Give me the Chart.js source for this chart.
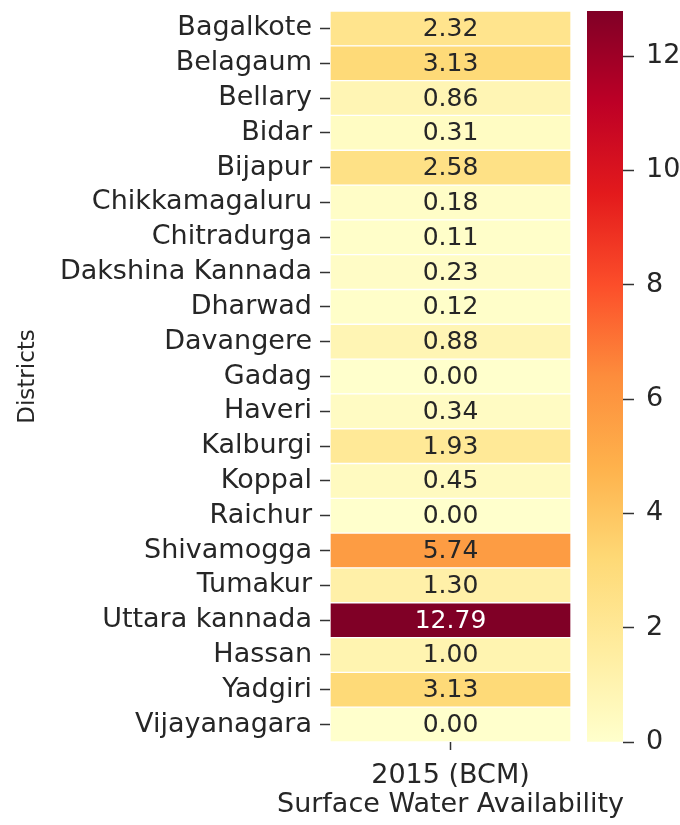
<!DOCTYPE html>
<html>
<head>
<meta charset="utf-8">
<script src="https://cdn.jsdelivr.net/npm/chart.js@4.4.1/dist/chart.umd.min.js"></script>
<style>
  html, body { margin: 0; padding: 0; background: #fff; }
  #wrap { position: relative; width: 680px; height: 825px; }
  #wrap canvas { position: absolute; left: 0; top: 0; }
</style>
</head>
<body>
<div id="wrap">
  <canvas id="heat" width="680" height="825"></canvas>
  <canvas id="cbar" width="680" height="825"></canvas>
</div>
<script>
// surface water availability per district, 2015, in BCM
const districts = [
    "Bagalkote", "Belagaum", "Bellary", "Bidar", "Bijapur", "Chikkamagaluru",
    "Chitradurga", "Dakshina Kannada", "Dharwad", "Davangere", "Gadag", "Haveri",
    "Kalburgi", "Koppal", "Raichur", "Shivamogga", "Tumakur", "Uttara kannada",
    "Hassan", "Yadgiri", "Vijayanagara"
];
const water2015 = [
    2.32, 3.13, 0.86, 0.31, 2.58, 0.18,
    0.11, 0.23, 0.12, 0.88, 0.00, 0.34,
    1.93, 0.45, 0.00, 5.74, 1.30, 12.79,
    1.00, 3.13, 0.00
];
const columnLabel = "2015 (BCM)";
const xTitle = "Surface Water Availability";
const yTitle = "Districts";
const cbarTicks = [0, 2, 4, 6, 8, 10, 12];

// YlOrRd
const ylorrd = ["#ffffcc", "#ffeda0", "#fed976", "#feb24c", "#fd8d3c", "#fc4e2a", "#e31a1c", "#bd0026", "#800026"];

const vmin = Math.min(...water2015);
const vmax = Math.max(...water2015);

const FONT = "'DejaVu Sans', sans-serif";

function _hexToRgb(h) {
    return [parseInt(h.substr(1, 2), 16), parseInt(h.substr(3, 2), 16), parseInt(h.substr(5, 2), 16)];
}

function _cmapRgb(v) {
    let t = (v - vmin) / (vmax - vmin);
    t = Math.max(0, Math.min(1, t)) * (ylorrd.length - 1);
    const i = Math.min(Math.floor(t), ylorrd.length - 2);
    const f = t - i;
    const a = _hexToRgb(ylorrd[i]);
    const b = _hexToRgb(ylorrd[i + 1]);
    return a.map((x, k) => Math.round(x + (b[k] - x) * f));
}

function _cmap(v) {
    return "rgb(" + _cmapRgb(v).join(",") + ")";
}

function _luminance(v) {
    const m = _cmapRgb(v).map(x => {
        x = x / 255;
        return x <= 0.03928 ? x / 12.92 : Math.pow((x + 0.055) / 1.055, 2.4);
    });
    return 0.2126 * m[0] + 0.7152 * m[1] + 0.0722 * m[2];
}

function _noEdgePadding(scale) {
    scale.paddingTop = 0;
    scale.paddingBottom = 0;
    scale.paddingLeft = 0;
    scale.paddingRight = 0;
}

Chart.defaults.font.family = FONT;
Chart.defaults.font.size = 27;
Chart.defaults.color = "#262626";

const cellText = {
    id: "cellText",
    afterDatasetsDraw(chart) {
        const ctx = chart.ctx;
        const meta = chart.getDatasetMeta(0);
        ctx.save();
        ctx.font = "25px " + FONT;
        ctx.textAlign = "center";
        ctx.textBaseline = "middle";
        meta.data.forEach((bar, i) => {
            const v = water2015[i];
            ctx.fillStyle = _luminance(v) < 0.408 ? "#ffffff" : "#262626";
            ctx.fillText(v.toFixed(2), (bar.x + bar.base) / 2, bar.y + 1);
        });
        ctx.restore();
    }
};

// axis title drawn by hand, the built-in one is squeezed to the axis width
const xAxisTitle = {
    id: "xAxisTitle",
    afterDraw(chart) {
        const ctx = chart.ctx;
        const x = chart.scales.x;
        ctx.save();
        ctx.font = "27px " + FONT;
        ctx.fillStyle = "#262626";
        ctx.textAlign = "center";
        ctx.textBaseline = "middle";
        ctx.fillText(xTitle, (x.left + x.right) / 2, x.bottom - 20);
        ctx.restore();
    }
};

new Chart(document.getElementById("heat"), {
    type: "bar",
    data: {
        labels: districts,
        datasets: [{
            data: districts.map(() => [0, 1]),
            backgroundColor: water2015.map(_cmap),
            borderColor: "#ffffff",
            borderWidth: 1,
            borderSkipped: false,
            barPercentage: 1,
            categoryPercentage: 1
        }]
    },
    options: {
        responsive: false,
        animation: false,
        indexAxis: "y",
        layout: { padding: { left: 0, top: 11, right: 109, bottom: 0 } },
        plugins: { legend: { display: false }, tooltip: { enabled: false } },
        scales: {
            y: {
                position: "left",
                border: { display: false },
                grid: {
                    offset: false,
                    drawOnChartArea: false,
                    tickLength: 10,
                    tickWidth: 1.5,
                    tickColor: "#333"
                },
                ticks: { padding: 8, autoSkip: false },
                title: { display: true, text: yTitle, font: { size: 23 }, padding: { top: 14 } },
                afterFit: (scale) => { scale.width = 330; _noEdgePadding(scale); }
            },
            x: {
                type: "linear",
                min: 0,
                max: 1,
                border: { display: false },
                grid: {
                    drawOnChartArea: false,
                    tickLength: 8,
                    tickWidth: 1.5,
                    tickColor: "#333"
                },
                ticks: { padding: 10, callback: () => columnLabel },
                afterBuildTicks: (axis) => { axis.ticks = [{ value: 0.5 }]; },
                afterFit: (scale) => { scale.height = 83; _noEdgePadding(scale); }
            }
        }
    },
    plugins: [cellText, xAxisTitle]
});

new Chart(document.getElementById("cbar"), {
    type: "bar",
    data: {
        labels: [""],
        datasets: [{
            data: [[vmin, vmax]],
            backgroundColor: (c) => {
                const chart = c.chart;
                if (!chart.chartArea) return ylorrd[0];
                const y = chart.scales.y;
                const g = chart.ctx.createLinearGradient(0, y.getPixelForValue(vmin), 0, y.getPixelForValue(vmax));
                ylorrd.forEach((col, i) => g.addColorStop(i / (ylorrd.length - 1), col));
                return g;
            },
            borderWidth: 0,
            barPercentage: 1,
            categoryPercentage: 1
        }]
    },
    options: {
        responsive: false,
        animation: false,
        layout: { padding: { left: 587, top: 11, right: 0, bottom: 83 } },
        plugins: { legend: { display: false }, tooltip: { enabled: false } },
        scales: {
            x: { display: false },
            y: {
                position: "right",
                min: vmin,
                max: vmax,
                border: { display: false },
                grid: {
                    drawOnChartArea: false,
                    tickLength: 11,
                    tickWidth: 1.5,
                    tickColor: "#333"
                },
                ticks: { padding: 12 },
                afterBuildTicks: (axis) => { axis.ticks = cbarTicks.map(v => ({ value: v })); },
                afterFit: (scale) => { scale.width = 57; _noEdgePadding(scale); }
            }
        }
    }
});
</script>
</body>
</html>
